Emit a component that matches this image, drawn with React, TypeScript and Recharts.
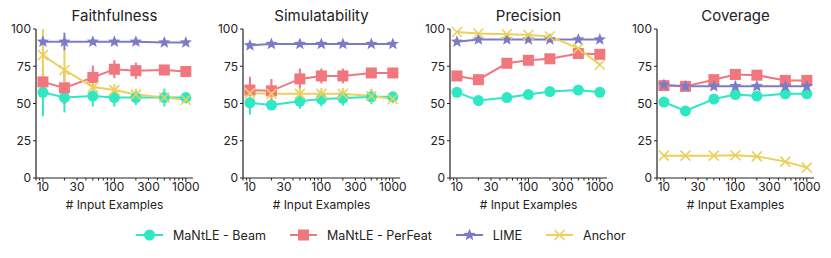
// Four small log-x line panels comparing explanation methods vs. number of input examples
import { LineChart, Line, XAxis, YAxis, ErrorBar } from 'recharts'

const examples = [10, 20, 50, 100, 200, 500, 1000]
const panelTitles = ['Faithfulness', 'Simulatability', 'Precision', 'Coverage']
const methodNames = ['MaNtLE - Beam', 'MaNtLE - PerFeat', 'LIME', 'Anchor']

const xTicks = [8, 9, 10, 20, 30, 40, 50, 60, 70, 80, 90, 100, 200, 300, 400, 500, 600, 700, 800, 900, 1000]
const xLabels = [10, 30, 100, 300, 1000]
const yTicks = [0, 25, 50, 75, 100]

// Faithfulness
const faithBeam = [57.5, 54, 55, 54, 54, 54, 54]
const faithPerFeat = [64.5, 60.5, 67.5, 73, 72, 72.5, 71.5]
const faithLime = [91.5, 91.5, 91.5, 91.5, 91.5, 91, 91]
const faithAnchor = [82.5, 72.5, 61, 59, 56, 54, 52.5]
const faithBeamErr = [[16, 6], 10, 7, 6, 5, 6, 3]
const faithPerFeatErr = [10, 11, 8, 6, 5.5, 3.5, 2]
const faithLimeErr = [2, 6, 2, 1.5, 1, 1, 1]
const faithAnchorErr = [[22, 17.5], 13, 4, 4, 4, 4, 2.5]

// Simulatability
const simBeam = [50.5, 49, 51.5, 53, 53.5, 54.5, 54.5]
const simPerFeat = [59, 58.5, 66.5, 68.5, 68.5, 70.5, 70.5]
const simLime = [89, 90, 90, 90, 90, 90, 90]
const simAnchor = [57, 56.5, 56.5, 56.5, 56.5, 55, 53]
const simBeamErr = [[8, 5], 3, 5, 5, 5, 5, 3]
const simPerFeatErr = [9, 8, 7, 5, 5, 3, 2]
const simLimeErr = [0.5, 0.5, 0.5, 0.5, 0.5, 0.5, 0.5]
const simAnchorErr = [3, 3, 4, 4, 4, 5, 3]

// Precision
const precBeam = [57.5, 52, 54, 56, 58, 59, 57.5]
const precPerFeat = [68.5, 66, 77, 79, 80, 83.5, 83]
const precLime = [91.5, 93, 93, 93, 93, 93, 93]
const precAnchor = [98, 97, 96.5, 96, 95, 87, 76]

// Coverage
const covBeam = [51, 45, 53, 56, 55, 56.5, 56.5]
const covPerFeat = [62, 61.5, 66, 69.5, 69, 65.5, 65.5]
const covLime = [62.5, 61.5, 61.5, 61.5, 61.5, 61.5, 61.5]
const covAnchor = [15, 15, 15, 15.3, 14.5, 11, 7]

const COLORS = {
  beam: '#2ee8c4',
  perfeat: '#f0777d',
  lime: '#7c7bc6',
  anchor: '#ecd05c',
}
const INK = '#222'

type Errs = (number | number[])[] | null

const panelData = [
  { title: panelTitles[0], series: [faithBeam, faithPerFeat, faithLime, faithAnchor], errs: [faithBeamErr, faithPerFeatErr, faithLimeErr, faithAnchorErr] as Errs[] },
  { title: panelTitles[1], series: [simBeam, simPerFeat, simLime, simAnchor], errs: [simBeamErr, simPerFeatErr, simLimeErr, simAnchorErr] as Errs[] },
  { title: panelTitles[2], series: [precBeam, precPerFeat, precLime, precAnchor], errs: [null, null, null, null] as Errs[] },
  { title: panelTitles[3], series: [covBeam, covPerFeat, covLime, covAnchor], errs: [null, null, null, null] as Errs[] },
]

const keys = ['beam', 'perfeat', 'lime', 'anchor'] as const

function Marker({ kind, cx, cy }: { kind: string; cx: number; cy: number }) {
  const c = COLORS[kind as keyof typeof COLORS]
  if (kind === 'beam') return <circle cx={cx} cy={cy} r={5.5} fill={c} />
  if (kind === 'perfeat') return <rect x={cx - 5.5} y={cy - 5.5} width={11} height={11} fill={c} />
  if (kind === 'lime') {
    const pts: string[] = []
    for (let i = 0; i < 10; i++) {
      const r = i % 2 === 0 ? 6.5 : 2.8
      const a = -Math.PI / 2 + (i * Math.PI) / 5
      pts.push(`${cx + r * Math.cos(a)},${cy + r * Math.sin(a)}`)
    }
    return <polygon points={pts.join(' ')} fill={c} />
  }
  return (
    <g stroke={c} strokeWidth={1.6}>
      <line x1={cx - 5} y1={cy - 5} x2={cx + 5} y2={cy + 5} />
      <line x1={cx - 5} y1={cy + 5} x2={cx + 5} y2={cy - 5} />
    </g>
  )
}

function XTick(props: any) {
  const { x, y, payload } = props
  const v = payload.value
  const major = v === 10 || v === 100 || v === 1000
  return (
    <g>
      <line x1={x} x2={x} y1={y} y2={y + (major ? 4 : 2.5)} stroke={INK} strokeWidth={1} />
      {xLabels.includes(v) && (
        <text x={x} y={y + 13} textAnchor="middle" fontSize={12} fill={INK}>{v}</text>
      )}
    </g>
  )
}

function Panel({ p }: { p: typeof panelData[number] }) {
  const rows = examples.map((x, i) => {
    const row: any = { x }
    keys.forEach((k, s) => {
      row[k] = p.series[s][i]
      const e = p.errs[s]
      if (e) row[k + 'Err'] = e[i]
    })
    return row
  })

  return (
    <div style={{ position: 'relative', width: 207, height: 215 }}>
      <div style={{ position: 'absolute', top: 6, left: 36, width: 157, textAlign: 'center', fontSize: 15, color: INK }}>
        {p.title}
      </div>
      <LineChart width={207} height={215} data={rows} margin={{ top: 29, right: 14, bottom: 0, left: 0 }}>
        <XAxis
          dataKey="x"
          type="number"
          scale="log"
          domain={[8, 1260]}
          ticks={xTicks}
          interval={0}
          tickSize={0}
          tickMargin={0}
          tickLine={false}
          tick={<XTick />}
          height={37}
          axisLine={{ stroke: INK, strokeWidth: 1.2 }}
          label={{ value: '# Input Examples', position: 'insideBottom', offset: 6, fontSize: 12, fill: INK }}
        />
        <YAxis
          type="number"
          domain={[0, 100]}
          ticks={yTicks}
          width={36}
          tickSize={3}
          tickMargin={2}
          tick={{ fontSize: 12, fill: INK }}
          axisLine={{ stroke: INK, strokeWidth: 1.2 }}
          tickLine={{ stroke: INK }}
        />
        {keys.map((k, s) => (
          <Line
            key={k}
            dataKey={k}
            stroke={COLORS[k]}
            strokeWidth={2}
            isAnimationActive={false}
            dot={(d: any) => <Marker key={`${k}-${d.index}`} kind={k} cx={d.cx} cy={d.cy} />}
            activeDot={false}
          >
            {p.errs[s] && (
              <ErrorBar dataKey={k + 'Err'} direction="y" width={0} stroke={COLORS[k]} strokeWidth={2} />
            )}
          </Line>
        ))}
      </LineChart>
    </div>
  )
}

export default function App() {
  return (
    <div style={{ position: 'absolute', left: 0, top: 0, width: 831, height: 258, background: '#fff', fontFamily: 'Inter, sans-serif', color: INK }}>
      <div style={{ display: 'flex' }}>
        {panelData.map(p => <Panel key={p.title} p={p} />)}
      </div>
      <div style={{ position: 'absolute', top: 226, left: 136, display: 'flex', alignItems: 'center', fontSize: 12.5, height: 18 }}>
        {keys.map((k, i) => (
          <div key={k} style={{ display: 'flex', alignItems: 'center', marginRight: 24 }}>
            <svg width={27} height={14} style={{ marginRight: 10 }}>
              <line x1={0} x2={27} y1={7} y2={7} stroke={COLORS[k]} strokeWidth={2} />
              <Marker kind={k} cx={13.5} cy={7} />
            </svg>
            <span>{methodNames[i]}</span>
          </div>
        ))}
      </div>
    </div>
  )
}
